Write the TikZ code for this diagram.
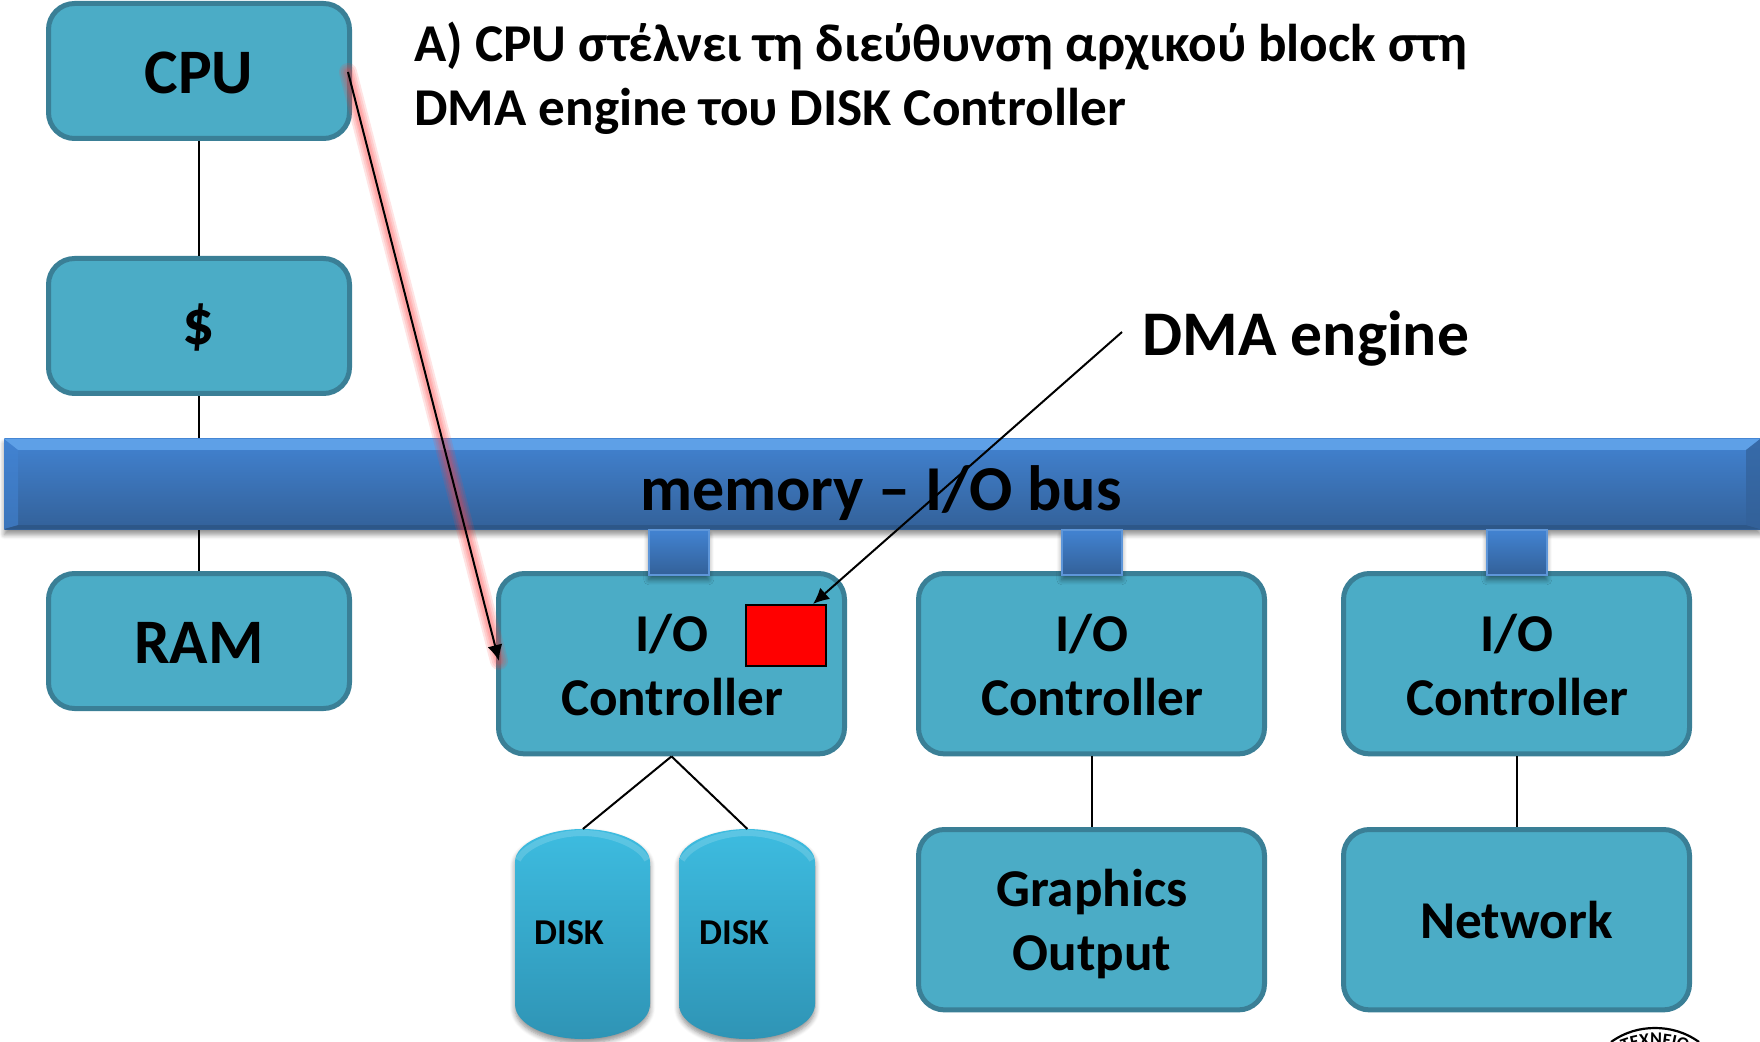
\documentclass[tikz,border=0pt]{standalone}
\usepackage{fontspec}
\setmainfont{Carlito}[BoldFont={Carlito Bold}]
\usetikzlibrary{arrows.meta,shadows.blur,decorations.text}
\definecolor{boxfill}{HTML}{4BACC6}
\definecolor{boxline}{HTML}{3A7F96}
\definecolor{bustop}{HTML}{4283D2}
\definecolor{busbot}{HTML}{336199}
\definecolor{busshine}{HTML}{64A6EC}
\definecolor{disktop}{HTML}{3DBCE0}
\definecolor{diskbot}{HTML}{2F94B5}
\tikzset{
  x=0.5pt,y=-0.5pt,
  procbox/.style={draw=boxline,line width=2.5pt,fill=boxfill,rounded corners=13pt,inner sep=0pt,align=center,font=\bfseries,anchor=north west},
  smallbox/.style={procbox,minimum width=150.5pt,minimum height=67.5pt},
  iobox/.style={procbox,minimum width=173pt,minimum height=90.2pt,font=\bfseries\fontsize{26.6}{32.3}\selectfont},
  conn/.style={draw=black,line width=1pt},
  arrowconn/.style={conn,-{Latex[length=8pt,width=7.5pt]}},
  glow/.style={draw=red!75!white,line cap=round,opacity=0.14},
  busbar/.style={top color=bustop,bottom color=busbot,draw=none,inner sep=0pt,anchor=north west,blur shadow={shadow xshift=0pt,shadow yshift=-2.5pt,shadow blur steps=6,shadow blur radius=2.5pt,shadow opacity=45}},
  stub/.style={busbar,draw=bustop!85!white,line width=0.8pt},
  diskshape/.style={top color=disktop,bottom color=diskbot,draw=none,blur shadow={shadow xshift=0pt,shadow yshift=-2pt,shadow blur steps=6,shadow blur radius=2.5pt,shadow opacity=45}},
  ghostbox/.style={inner sep=0pt,anchor=north west},
  lbl/.style={font=\bfseries,inner sep=0pt,align=center},
  biglbl/.style={lbl,font=\bfseries\fontsize{31.7}{31.7}\selectfont},
}
\begin{document}
\begin{tikzpicture}
\useasboundingbox (0,0) rectangle (1760,1042);
\node[smallbox] (cpu) at (46,1) {};
\node[smallbox] (cache) at (46,256) {};
\node[smallbox] (ram) at (46,571) {};
\node[biglbl] (cput) at (199,73) {CPU};
\node[biglbl] (cachet) at (199,328) {\$};
\node[biglbl] (ramt) at (199,643) {RAM};
\draw[conn] (cpu.south) -- (cache.north);
\draw[conn] (cache.south) -- (ram.north);
% bus
\node[busbar,minimum width=878pt,minimum height=45.5pt] (bus) at (4,438) {};
\fill[busshine,opacity=.85] (4,439) -- (1760,439) -- (1746,450) -- (18,450) -- cycle;
\fill[busbot!80!black,opacity=.55] (4,529) -- (1760,529) -- (1746,525) -- (18,525) -- cycle;
\fill[bustop,opacity=.6] (4,439) -- (18,450) -- (18,525) -- (4,529) -- cycle;
\fill[busbot,opacity=.7] (1760,439) -- (1746,450) -- (1746,525) -- (1760,529) -- cycle;
\node[font=\bfseries\fontsize{32}{32}\selectfont,inner sep=0pt] (buslabel) at (881,493) {memory – I/O bus};
% controllers
\node[iobox] (ioA) at (496,571) {};
\node[iobox] (ioB) at (916,571) {};
\node[iobox] (ioC) at (1341,571) {};
% stubs
\node[stub,minimum width=30pt,minimum height=22.5pt] (stubA) at (648,529) {};
\node[stub,minimum width=30pt,minimum height=22.5pt] (stubB) at (1061,529) {};
\node[stub,minimum width=30pt,minimum height=22.5pt] (stubC) at (1486,529) {};
\node[lbl,font=\bfseries\fontsize{26.6}{32.3}\selectfont] (ioAt) at (672,665) {I/O\\Controller};
\node[lbl,font=\bfseries\fontsize{26.6}{32.3}\selectfont] (ioBt) at (1092,665) {I/O\\Controller};
\node[lbl,font=\bfseries\fontsize{26.6}{32.3}\selectfont] (ioCt) at (1517,665) {I/O\\Controller};
\node[draw=black,line width=1pt,fill=red,minimum width=40pt,minimum height=30.5pt,inner sep=0pt,anchor=north west] (dma) at (745,604) {};
% lower row
\node[iobox] (gfx) at (916,827) {};
\node[lbl,font=\bfseries\fontsize{26.6}{32.3}\selectfont] (gfxt) at (1092,924) {Graphics\\Output};
\node[iobox] (net) at (1341,827) {Network};
\draw[conn] (ioB.south) -- (gfx.north);
\draw[conn] (ioC.south) -- (net.north);
% disks
\path[diskshape] (515,862) .. controls (515,843) and (548,829) .. (582.5,829) .. controls (617,829) and (650,843) .. (650,862) -- (650,1004) .. controls (650,1025) and (617,1039) .. (582.5,1039) .. controls (548,1039) and (515,1025) .. (515,1004) -- cycle;
\path[diskshape] (679,862) .. controls (679,843) and (713,829) .. (747,829) .. controls (781,829) and (815,843) .. (815,862) -- (815,1004) .. controls (815,1025) and (781,1039) .. (747,1039) .. controls (713,1039) and (679,1025) .. (679,1004) -- cycle;
\draw[white,opacity=.16,line width=3pt] (518,860) .. controls (525,845) and (555,833) .. (582.5,833) .. controls (610,833) and (640,845) .. (647,860);
\draw[white,opacity=.16,line width=3pt] (682,860) .. controls (690,845) and (720,833) .. (747,833) .. controls (774,833) and (804,845) .. (812,860);
\node[ghostbox,minimum width=68.5pt,minimum height=105pt] (diskA) at (514,829) {};
\node[ghostbox,minimum width=68pt,minimum height=105pt] (diskB) at (679,829) {};
\node[lbl,font=\bfseries\fontsize{18.2}{18.2}\selectfont] (diskAt) at (569,933) {DISK};
\node[lbl,font=\bfseries\fontsize{18.2}{18.2}\selectfont] (diskBt) at (734,933) {DISK};
\draw[conn] (ioA.south) -- (diskA.north);
\draw[conn] (ioA.south) -- (diskB.north);
% DMA pointer
\coordinate (dmafree) at (1122,332);
\coordinate (dmatip) at (813,604);
\draw[arrowconn] (dmafree) -- (dmatip);
\node[lbl,anchor=west,font=\bfseries\fontsize{31.8}{31.8}\selectfont] (dmalabel) at (1142,339) {DMA engine};
% CPU -> controller
\coordinate (cpuout) at (348,72);
\coordinate (ioin) at (499,661);
\foreach \w in {9,7,5,3.5}{\draw[glow,line width=\w pt] (cpuout) -- (ioin);}
\draw[arrowconn] (cpuout) -- (ioin);
% header
\node[anchor=west,inner sep=0pt,align=left,font=\bfseries\fontsize{26.6}{32}\selectfont] (head) at (414,78) {A) CPU στέλνει τη διεύθυνση αρχικού block στη\\DMA engine του DISK Controller};
% seal, cut by the edge
\draw[line width=1.1pt] (1611,1042) .. controls (1625,1032) and (1640,1028) .. (1655,1028) .. controls (1670,1028) and (1685,1032) .. (1699,1042);
\path[decorate,decoration={text along path,text align=center,text={|\bfseries\fontsize{9}{9}\selectfont|ΤΕΧΝΕΙΟ}}] (1612,1056) .. controls (1628,1048) and (1642,1045) .. (1655,1045) .. controls (1668,1045) and (1682,1048) .. (1698,1056);
\end{tikzpicture}
\end{document}
